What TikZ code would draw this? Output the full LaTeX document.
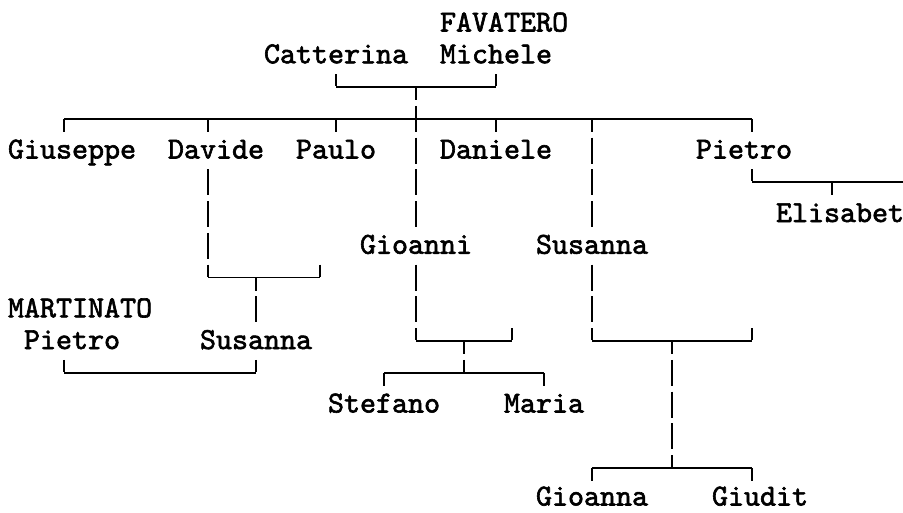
\documentclass[tikz,border=0pt]{standalone}
\usepackage{fontspec}
\newfontfamily\treefont{lmmono10-regular}[Extension=.otf,FakeBold=2]
\begin{document}
\begin{tikzpicture}[x=1pt,y=-1pt,
  person/.style={inner sep=0pt,outer sep=0pt,anchor=base west,font=\treefont\fontsize{30.5}{30.5}\selectfont},
  hbar/.style={line width=1.8pt},
  vbar/.style={line width=1.8pt,dash pattern=on 26pt off 5.75pt},
  vbarmid/.style={vbar,dash phase=12.875pt}]
\useasboundingbox[fill=white] (0,0) rectangle (903,512);
% names
\node[person] (favatero) at (440,31.5) {FAVATERO};
\node[person] (catterina) at (264,63.25) {Catterina};
\node[person] (michele) at (440,63.25) {Michele};
\node[person] (giuseppe) at (8,158.5) {Giuseppe};
\node[person] (davide) at (168,158.5) {Davide};
\node[person] (paulo) at (296,158.5) {Paulo};
\node[person] (daniele) at (440,158.5) {Daniele};
\node[person] (pietro) at (696,158.5) {Pietro};
\node[person] (elisabet) at (776,222) {Elisabet};
\node[person] (gioanni) at (360,253.75) {Gioanni};
\node[person] (susanna) at (536,253.75) {Susanna};
\node[person] (martinato) at (8,317.25) {MARTINATO};
\node[person] (pietrom) at (24,349) {Pietro};
\node[person] (susannad) at (200,349) {Susanna};
\node[person] (stefano) at (328,412.5) {Stefano};
\node[person] (maria) at (504,412.5) {Maria};
\node[person] (gioanna) at (536,505.5) {Gioanna};
\node[person] (giudit) at (712,505.5) {Giudit};
% coordinates (junctions)
\coordinate (p1) at (336,87);
\coordinate (p2) at (496,87);
\coordinate (p0) at (416,87);
\coordinate (c1) at (64,118.75);
\coordinate (c2) at (752,118.75);
\coordinate (e1) at (752,182.25);
\coordinate (e2) at (903,182.25);
\coordinate (e0) at (832,182.25);
\coordinate (d1) at (208,277.5);
\coordinate (d2) at (320,277.5);
\coordinate (d0) at (256,277.5);
\coordinate (g1) at (416,341);
\coordinate (g2) at (512,341);
\coordinate (g0) at (464,341);
\coordinate (s1) at (592,341);
\coordinate (s2) at (752,341);
\coordinate (s0) at (672,341);
\coordinate (m1) at (64,372.75);
\coordinate (m2) at (256,372.75);
\coordinate (f1) at (384,372.75);
\coordinate (f2) at (544,372.75);
\coordinate (f0) at (464,372.75);
\coordinate (h1) at (592,468);
\coordinate (h2) at (752,468);
\coordinate (h0) at (672,468);
% horizontals
\draw[hbar] (p1) -- (p2);
\draw[hbar] (c1) -- (c2);
\draw[hbar] (e1) -- (e2);
\draw[hbar] (d1) -- (d2);
\draw[hbar] (g1) -- (g2);
\draw[hbar] (s1) -- (s2);
\draw[hbar] (m1) -- (m2);
\draw[hbar] (f1) -- (f2);
\draw[hbar] (h1) -- (h2);
% parents' up strokes
\draw[vbar] (336,74.125) -- ([yshift=0.9pt]p1);
\draw[vbar] (496,74.125) -- ([yshift=0.9pt]p2);
% main trunk to Gioanni
\draw[vbarmid] (p0) -- (416,227.125);
% children of first family
\draw[vbarmid] (c1) -- (64,131.875);
\draw[vbarmid] (208,118.75) -- (208,131.875);
\draw[vbarmid] (336,118.75) -- (336,131.875);
\draw[vbarmid] (496,118.75) -- (496,131.875);
\draw[vbarmid] (c2) -- (752,131.875);
\draw[vbarmid] (592,118.75) -- (592,227.125);
% Pietro - Elisabet
\draw[vbar] (752,169.375) -- ([yshift=0.9pt]e1);
\draw[vbarmid] (e0) -- (832,195.375);
% Davide - Susanna
\draw[vbar] (208,169.375) -- ([yshift=0.9pt]d1);
\draw[vbar] (320,264.625) -- ([yshift=0.9pt]d2);
\draw[vbarmid] (d0) -- (256,322.375);
% Gioanni family
\draw[vbar] (416,264.625) -- ([yshift=0.9pt]g1);
\draw[vbar] (512,328.125) -- ([yshift=0.9pt]g2);
\draw[vbarmid] (g0) -- (f0);
\draw[vbarmid] (f1) -- (384,385.875);
\draw[vbarmid] (f2) -- (544,385.875);
% Susanna family
\draw[vbar] (592,264.625) -- ([yshift=0.9pt]s1);
\draw[vbar] (752,328.125) -- ([yshift=0.9pt]s2);
\draw[vbarmid] (s0) -- (h0);
\draw[vbarmid] (h1) -- (592,481.125);
\draw[vbarmid] (h2) -- (752,481.125);
% Martinato - Susanna
\draw[vbar] (64,359.875) -- ([yshift=0.9pt]m1);
\draw[vbar] (256,359.875) -- ([yshift=0.9pt]m2);
\end{tikzpicture}
\end{document}
